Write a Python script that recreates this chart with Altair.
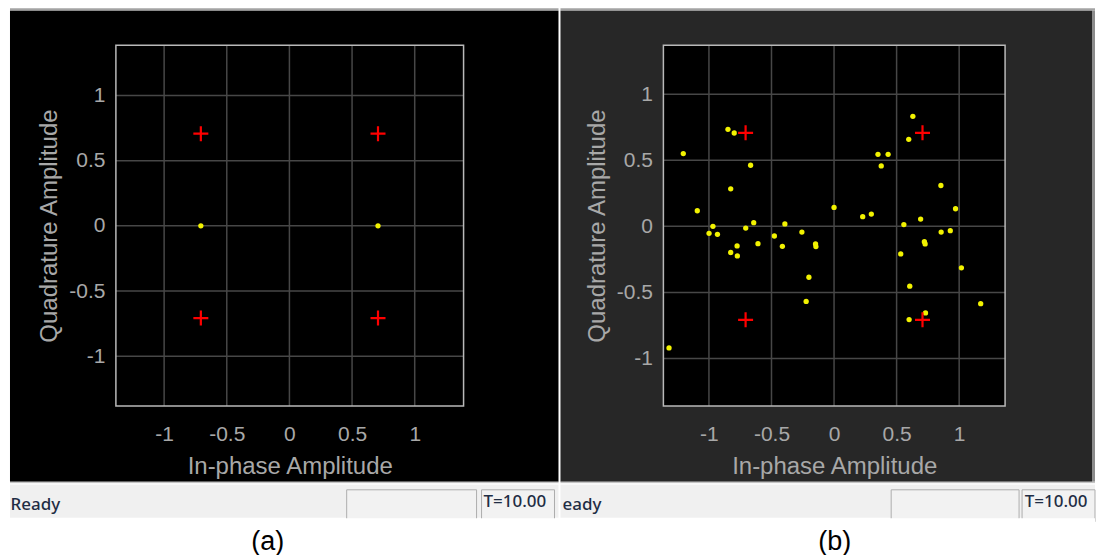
import altair as alt
import pandas as pd

# ---------------- data ----------------
TICKS = [-1, -0.5, 0, 0.5, 1]

REF_I = [-0.707, 0.707, -0.707, 0.707]
REF_Q = [0.707, 0.707, -0.707, -0.707]

A_RX_I = [-0.707, 0.707]
A_RX_Q = [0.0, 0.0]

B_RX_I = [-1.205, -1.093, -0.848, -0.798, -0.667, -0.826, -0.968, -0.999, -0.932, -0.706,
          -0.642, -0.775, -0.826, -0.773, -0.608, -0.477, -0.393, -0.413, -0.257, -0.148,
          -0.145, 0.0, -0.201, 0.229, 0.298, 0.351, 0.432, 0.377, 0.630, 0.597,
          0.854, 0.971, 0.692, 0.558, 0.856, 0.929, 0.722, 0.728, 0.533, 1.018,
          0.605, -0.223, 1.172, 0.600, 0.731, -1.319]
B_RX_Q = [0.55, 0.118, 0.734, 0.706, 0.462, 0.284, 0.0, -0.053, -0.060, -0.013,
          0.028, -0.148, -0.198, -0.224, -0.131, -0.073, 0.018, -0.151, -0.043, -0.133,
          -0.153, 0.143, -0.385, 0.073, 0.093, 0.545, 0.545, 0.457, 0.832, 0.658,
          0.309, 0.133, 0.055, 0.013, -0.043, -0.033, -0.116, -0.133, -0.209, -0.314,
          -0.4525, -0.568, -0.585, -0.705, -0.655, -0.92]

X_TITLE = "In-phase Amplitude"
Y_TITLE = "Quadrature Amplitude"

# ---------------- style ----------------
FONT = "Liberation Sans"
UI_FONT = "Noto Sans"
AX_COLOR = "#a8a8a8"
GRID_COLOR = "#474747"
BORDER_COLOR = "#b9b9b9"
OY = 45
H = 361
PLUS = "M-1,0L1,0M0,-1L0,1"
ONE = alt.Data(values=[{"k": 1}])


def panel(ox, W, xdom, ydom, rx_i, rx_q, bg, left, right, status_txt, status_x,
          t_x, box1, box2, caption, cap_x, right_line):
    def rx(v):
        return v - ox

    def ry(v):
        return v - OY

    def rect(x1, x2, y1, y2, fill, **kw):
        return alt.Chart(ONE).mark_rect(fill=fill, **kw).encode(
            x=alt.value(rx(x1)), x2=alt.value(rx(x2)),
            y=alt.value(ry(y1)), y2=alt.value(ry(y2)))

    def text(s, x, y, size, color, font, align="left", weight="normal"):
        return alt.Chart(ONE).mark_text(
            text=s, align=align, baseline="alphabetic", font=font, fontWeight=weight,
            fontSize=size, color=color).encode(x=alt.value(rx(x)), y=alt.value(ry(y)))

    xaxis = alt.Axis(values=TICKS, title=X_TITLE, grid=False, ticks=False, domain=False,
                     labelExpr="'' + datum.value", labelPadding=18, labelFontSize=21,
                     labelFont=FONT, labelColor=AX_COLOR, titleFont=FONT, titleFontSize=24,
                     titleFontWeight="normal", titleColor=AX_COLOR, titleX=W / 2, titleY=68,
                     titleBaseline="alphabetic", titleAlign="center", zindex=1)
    yaxis = alt.Axis(values=TICKS, title=Y_TITLE, grid=False, ticks=False, domain=False,
                     labelExpr="'' + datum.value", labelPadding=11, labelFontSize=21,
                     labelFont=FONT, labelColor=AX_COLOR, titleFont=FONT, titleFontSize=24,
                     titleFontWeight="normal", titleColor=AX_COLOR, titleX=-59, titleY=H / 2,
                     titleBaseline="alphabetic", titleAlign="center", zindex=1)
    X = alt.X("i:Q", scale=alt.Scale(domain=xdom, nice=False, zero=False), axis=xaxis)
    Y = alt.Y("q:Q", scale=alt.Scale(domain=ydom, nice=False, zero=False), axis=yaxis)

    layers = [
        rect(left, right, 8, 10.5, "#a3a3a3"),
        rect(left, right_line, 10.5, 482, bg),
    ]
    if right_line < right:
        layers.append(rect(right_line, right, 10.5, 482, "#8c8c8c"))
    layers += [
        rect(left, right, 482, 483.5, "#c4c4c4"),
        rect(left, right, 483.5, 485, "#fbfbfb"),
        rect(left, right, 485, 518, "#f0f0f0"),
        rect(box1[0], box1[1], 490, 522, "#f2f2f2", stroke="#adadad", strokeWidth=1),
        rect(box2[0], box2[1], 490, 522, "#f2f2f2", stroke="#adadad", strokeWidth=1),
        rect(left, right, 518.5, 526, "#ffffff"),
        text(status_txt, status_x, 510, 17, "#1f2d44", UI_FONT, weight=500),
        text("T=10.00", t_x, 507.5, 17, "#1f2d44", UI_FONT, weight=500),
        text(caption, cap_x, 550, 27, "#000000", FONT, align="center"),
        # plot area
        rect(ox, ox + W, OY, OY + H, "#000000"),
        alt.Chart(pd.DataFrame({"i": TICKS})).mark_rule(
            color=GRID_COLOR, strokeWidth=1.5).encode(x=X),
        alt.Chart(pd.DataFrame({"q": TICKS})).mark_rule(
            color=GRID_COLOR, strokeWidth=1.5).encode(y=Y),
        rect(ox, ox + W, OY, OY + H, "transparent", stroke=BORDER_COLOR, strokeWidth=1.5,
             fillOpacity=0),
        alt.Chart(pd.DataFrame({"i": rx_i, "q": rx_q})).mark_point(
            shape="circle", filled=True, size=28, color="#f2f200", opacity=1).encode(x=X, y=Y),
        alt.Chart(pd.DataFrame({"i": REF_I, "q": REF_Q})).mark_point(
            shape=PLUS, filled=False, size=225, color="#ff0000", strokeWidth=2.2,
            opacity=1).encode(x=X, y=Y),
    ]
    return alt.layer(*layers).properties(width=W, height=H)


pa = panel(116, 348, [-1.385, 1.39], [-1.38, 1.385], A_RX_I, A_RX_Q, "#000000",
           10, 559, "Ready", 10.5, 484, (347, 477), (482, 555), "(a)", 268, 559)
pb = panel(664, 342, [-1.364, 1.367], [-1.358, 1.37], B_RX_I, B_RX_Q, "#272727",
           561, 1096, "eady", 563, 1025.7, (892, 1020), (1023, 1096), "(b)", 835.5, 1093)

chart = alt.hconcat(pa, pb, spacing=2).properties(
    padding={"left": 10, "top": 8, "right": 0, "bottom": 0},
    background="white",
).configure_view(stroke=None)

chart.save("out.html", embed_options={"renderer": "svg", "actions": False})
